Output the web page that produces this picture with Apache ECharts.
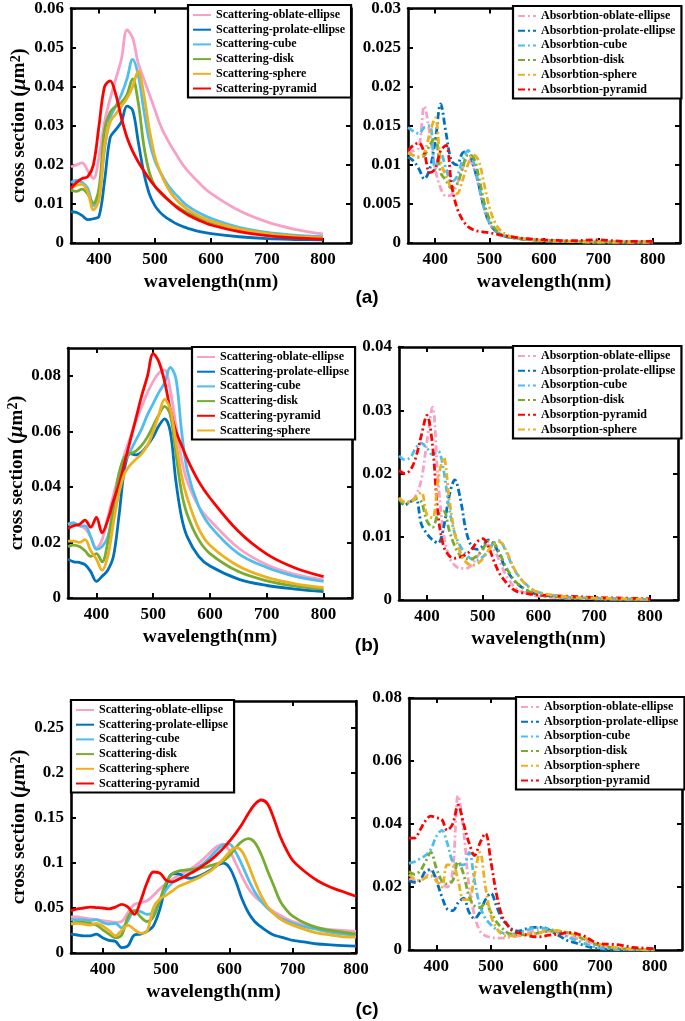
<!DOCTYPE html>
<html><head><meta charset="utf-8">
<script src="https://cdn.jsdelivr.net/npm/echarts@6/dist/echarts.min.js"></script>
<style>html,body{margin:0;padding:0;background:#fff}#c{width:685px;height:1021px}</style>
</head><body><div id="c"></div>
<script>
// ---------- wavelengths (nm) ----------
const waveAB = [350,360,370,380,390,400,410,420,430,440,450,460,470,480,490,500,510,520,530,540,550,560,580,600,650,700,750,800];
const waveC = [350,360,370,380,390,400,410,420,430,440,450,460,470,480,490,500,510,520,530,540,550,560,570,580,590,600,610,620,630,640,650,660,670,680,690,700,720,740,760,780,800];

// ---------- tick values ----------
const xTicks = [400,500,600,700,800];
const yTicksA1 = [0,0.01,0.02,0.03,0.04,0.05,0.06];
const yTicksA2 = [0,0.005,0.01,0.015,0.02,0.025,0.03];
const yTicksB1 = [0,0.02,0.04,0.06,0.08];
const yTicksB2 = [0,0.01,0.02,0.03,0.04];
const yTicksC1 = [0,0.05,0.1,0.15,0.2,0.25];
const yTicksC2 = [0,0.02,0.04,0.06,0.08];

// ---------- (a) scattering ----------
const aScaOblate  = [0.0195,0.0200,0.0205,0.0185,0.0165,0.0220,0.0310,0.0370,0.0420,0.0470,0.0545,0.0525,0.0460,0.0420,0.0380,0.0340,0.0300,0.0270,0.0245,0.0222,0.0200,0.0182,0.0152,0.0127,0.0083,0.0054,0.0035,0.0023];
const aScaProlate = [0.0080,0.0078,0.0070,0.0060,0.0062,0.0068,0.0160,0.0270,0.0290,0.0310,0.0350,0.0340,0.0260,0.0180,0.0125,0.0095,0.0077,0.0065,0.0056,0.0048,0.0042,0.0037,0.0029,0.0024,0.0016,0.0011,0.0009,0.0008];
const aScaCube    = [0.0155,0.0160,0.0155,0.0140,0.0095,0.0120,0.0240,0.0320,0.0350,0.0380,0.0420,0.0470,0.0430,0.0340,0.0260,0.0210,0.0180,0.0155,0.0135,0.0120,0.0105,0.0093,0.0076,0.0063,0.0040,0.0027,0.0020,0.0016];
const aScaDisk    = [0.0135,0.0132,0.0138,0.0125,0.0102,0.0140,0.0290,0.0335,0.0350,0.0360,0.0380,0.0420,0.0360,0.0250,0.0180,0.0145,0.0128,0.0115,0.0103,0.0093,0.0084,0.0076,0.0063,0.0053,0.0034,0.0023,0.0017,0.0013];
const aScaSphere  = [0.0140,0.0148,0.0150,0.0130,0.0085,0.0110,0.0250,0.0310,0.0330,0.0350,0.0370,0.0400,0.0440,0.0380,0.0290,0.0220,0.0180,0.0148,0.0125,0.0108,0.0095,0.0084,0.0068,0.0056,0.0036,0.0024,0.0017,0.0013];
const aScaPyramid = [0.0140,0.0155,0.0165,0.0170,0.0200,0.0300,0.0400,0.0415,0.0380,0.0320,0.0270,0.0235,0.0208,0.0185,0.0163,0.0145,0.0130,0.0115,0.0102,0.0090,0.0080,0.0071,0.0057,0.0046,0.0029,0.0019,0.0013,0.0010];

// ---------- (a) absorption ----------
const aAbsOblate  = [0.0115,0.0118,0.0122,0.0175,0.0140,0.0095,0.0070,0.0060,0.0062,0.0075,0.0095,0.0108,0.0098,0.0072,0.0043,0.0025,0.0016,0.0011,0.0008,0.0007,0.0006,0.0005,0.0004,0.0003,0.0002,0.0002,0.0001,0.0001];
const aAbsProlate = [0.0110,0.0105,0.0095,0.0082,0.0095,0.0130,0.0178,0.0140,0.0105,0.0100,0.0115,0.0118,0.0100,0.0075,0.0045,0.0025,0.0016,0.0011,0.0008,0.0007,0.0006,0.0005,0.0004,0.0003,0.0002,0.0001,0.0001,0.0001];
const aAbsCube    = [0.0148,0.0143,0.0140,0.0148,0.0150,0.0095,0.0115,0.0095,0.0078,0.0085,0.0105,0.0118,0.0105,0.0075,0.0045,0.0026,0.0016,0.0011,0.0008,0.0007,0.0006,0.0005,0.0004,0.0003,0.0002,0.0001,0.0001,0.0001];
const aAbsDisk    = [0.0115,0.0112,0.0110,0.0112,0.0125,0.0135,0.0090,0.0080,0.0070,0.0075,0.0095,0.0112,0.0110,0.0085,0.0052,0.0030,0.0018,0.0012,0.0009,0.0007,0.0006,0.0005,0.0004,0.0003,0.0002,0.0001,0.0001,0.0001];
const aAbsSphere  = [0.0115,0.0112,0.0110,0.0115,0.0140,0.0160,0.0105,0.0085,0.0070,0.0063,0.0080,0.0100,0.0113,0.0105,0.0075,0.0045,0.0026,0.0016,0.0011,0.0008,0.0007,0.0006,0.0004,0.0003,0.0002,0.0001,0.0001,0.0001];
const aAbsPyramid = [0.0118,0.0125,0.0128,0.0115,0.0090,0.0095,0.0118,0.0125,0.0075,0.0045,0.0030,0.0021,0.0017,0.0015,0.0014,0.0013,0.0012,0.0010,0.0009,0.0008,0.0007,0.0006,0.0005,0.0004,0.0003,0.0004,0.0002,0.0002];

// ---------- (b) scattering ----------
const bScaOblate  = [0.0265,0.0270,0.0260,0.0250,0.0220,0.0180,0.0210,0.0290,0.0370,0.0450,0.0520,0.0580,0.0640,0.0690,0.0740,0.0780,0.0810,0.0820,0.0750,0.0620,0.0500,0.0420,0.0330,0.0280,0.0180,0.0120,0.0085,0.0065];
const bScaProlate = [0.0140,0.0130,0.0128,0.0120,0.0095,0.0060,0.0078,0.0100,0.0150,0.0300,0.0470,0.0520,0.0515,0.0525,0.0550,0.0580,0.0620,0.0645,0.0600,0.0420,0.0290,0.0220,0.0150,0.0115,0.0068,0.0045,0.0032,0.0023];
const bScaCube    = [0.0265,0.0270,0.0260,0.0260,0.0220,0.0175,0.0185,0.0220,0.0320,0.0420,0.0490,0.0530,0.0570,0.0610,0.0660,0.0700,0.0740,0.0775,0.0830,0.0790,0.0600,0.0460,0.0330,0.0260,0.0160,0.0110,0.0078,0.0060];
const bScaDisk    = [0.0185,0.0190,0.0185,0.0170,0.0150,0.0160,0.0130,0.0200,0.0330,0.0450,0.0510,0.0520,0.0530,0.0550,0.0580,0.0620,0.0660,0.0690,0.0660,0.0520,0.0380,0.0300,0.0210,0.0160,0.0095,0.0062,0.0043,0.0032];
const bScaPyramid = [0.0250,0.0260,0.0265,0.0280,0.0255,0.0290,0.0235,0.0280,0.0350,0.0410,0.0490,0.0570,0.0650,0.0730,0.0800,0.0880,0.0850,0.0780,0.0680,0.0600,0.0550,0.0500,0.0420,0.0360,0.0240,0.0158,0.0108,0.0077];
const bScaSphere  = [0.0205,0.0205,0.0200,0.0210,0.0170,0.0140,0.0100,0.0150,0.0270,0.0380,0.0450,0.0480,0.0500,0.0520,0.0550,0.0600,0.0660,0.0715,0.0680,0.0560,0.0440,0.0360,0.0250,0.0190,0.0115,0.0074,0.0051,0.0037];

// ---------- (b) absorption ----------
const bAbsOblate  = [0.0160,0.0155,0.0155,0.0165,0.0190,0.0250,0.0305,0.0190,0.0105,0.0068,0.0055,0.0050,0.0050,0.0055,0.0068,0.0080,0.0087,0.0080,0.0062,0.0042,0.0028,0.0018,0.0010,0.0006,0.0003,0.0002,0.0001,0.0001];
const bAbsProlate = [0.0160,0.0150,0.0155,0.0160,0.0120,0.0105,0.0095,0.0090,0.0115,0.0165,0.0190,0.0160,0.0110,0.0085,0.0080,0.0085,0.0095,0.0088,0.0072,0.0052,0.0038,0.0027,0.0015,0.0009,0.0004,0.0002,0.0001,0.0001];
const bAbsCube    = [0.0228,0.0222,0.0225,0.0240,0.0248,0.0240,0.0230,0.0235,0.0205,0.0145,0.0105,0.0085,0.0072,0.0065,0.0063,0.0068,0.0078,0.0090,0.0094,0.0080,0.0060,0.0043,0.0023,0.0012,0.0005,0.0003,0.0002,0.0001];
const bAbsDisk    = [0.0160,0.0152,0.0155,0.0160,0.0155,0.0125,0.0115,0.0135,0.0140,0.0110,0.0085,0.0070,0.0065,0.0065,0.0070,0.0080,0.0093,0.0090,0.0075,0.0055,0.0040,0.0028,0.0015,0.0008,0.0004,0.0002,0.0001,0.0001];
const bAbsPyramid = [0.0205,0.0200,0.0205,0.0225,0.0260,0.0292,0.0245,0.0135,0.0085,0.0070,0.0066,0.0068,0.0072,0.0080,0.0092,0.0097,0.0085,0.0062,0.0042,0.0030,0.0020,0.0014,0.0010,0.0008,0.0006,0.0004,0.0003,0.0002];
const bAbsSphere  = [0.0162,0.0155,0.0155,0.0162,0.0170,0.0135,0.0130,0.0190,0.0225,0.0160,0.0105,0.0075,0.0060,0.0055,0.0057,0.0065,0.0078,0.0088,0.0092,0.0082,0.0062,0.0044,0.0022,0.0012,0.0005,0.0003,0.0002,0.0001];

// ---------- (c) scattering ----------
const cScaOblate  = [0.040,0.040,0.039,0.038,0.037,0.036,0.035,0.034,0.035,0.045,0.054,0.056,0.058,0.064,0.071,0.077,0.082,0.086,0.090,0.094,0.099,0.105,0.112,0.118,0.121,0.114,0.100,0.085,0.072,0.063,0.057,0.051,0.046,0.042,0.038,0.035,0.031,0.028,0.026,0.025,0.024];
const cScaProlate = [0.021,0.020,0.019,0.019,0.021,0.017,0.014,0.013,0.006,0.008,0.020,0.021,0.024,0.030,0.048,0.075,0.088,0.088,0.084,0.083,0.085,0.088,0.092,0.097,0.100,0.095,0.080,0.060,0.045,0.035,0.029,0.024,0.020,0.018,0.016,0.014,0.012,0.010,0.009,0.0082,0.0077];
const cScaCube    = [0.037,0.037,0.037,0.036,0.037,0.034,0.032,0.033,0.028,0.036,0.047,0.046,0.043,0.045,0.058,0.070,0.078,0.082,0.086,0.090,0.095,0.100,0.107,0.114,0.120,0.121,0.112,0.098,0.082,0.068,0.058,0.050,0.044,0.039,0.036,0.033,0.029,0.026,0.023,0.021,0.020];
const cScaDisk    = [0.033,0.034,0.034,0.033,0.031,0.026,0.021,0.017,0.020,0.040,0.047,0.040,0.035,0.040,0.058,0.078,0.088,0.091,0.092,0.093,0.094,0.095,0.097,0.099,0.102,0.108,0.117,0.124,0.127,0.123,0.110,0.092,0.075,0.058,0.048,0.041,0.033,0.028,0.025,0.023,0.021];
const cScaSphere  = [0.032,0.033,0.032,0.031,0.033,0.030,0.025,0.019,0.025,0.031,0.026,0.022,0.024,0.050,0.060,0.064,0.069,0.074,0.077,0.080,0.083,0.087,0.091,0.097,0.104,0.112,0.117,0.113,0.098,0.080,0.064,0.052,0.044,0.038,0.034,0.031,0.026,0.022,0.020,0.018,0.0177];
const cScaPyramid = [0.047,0.049,0.050,0.051,0.0505,0.050,0.049,0.051,0.054,0.051,0.043,0.058,0.078,0.090,0.089,0.081,0.079,0.082,0.085,0.089,0.093,0.098,0.103,0.109,0.116,0.124,0.133,0.143,0.155,0.165,0.170,0.166,0.150,0.130,0.115,0.103,0.090,0.080,0.073,0.068,0.063];

// ---------- (c) absorption ----------
const cAbsOblate  = [0.0225,0.022,0.022,0.023,0.025,0.023,0.021,0.020,0.025,0.049,0.038,0.020,0.011,0.006,0.0045,0.004,0.0038,0.0038,0.004,0.0042,0.0045,0.005,0.0055,0.006,0.0062,0.006,0.0058,0.0055,0.005,0.0045,0.004,0.0035,0.003,0.0025,0.0018,0.0012,0.0006,0.0003,0.0002,0.0001,0.0001];
const cAbsProlate = [0.022,0.0215,0.022,0.025,0.0255,0.022,0.017,0.013,0.0125,0.015,0.0165,0.012,0.0100,0.012,0.016,0.018,0.014,0.010,0.008,0.0065,0.006,0.0065,0.007,0.0072,0.0072,0.007,0.006,0.005,0.004,0.003,0.0025,0.002,0.0015,0.001,0.0006,0.0003,0.0001,0.0001,0,0,0];
const cAbsCube    = [0.0275,0.028,0.029,0.030,0.032,0.036,0.038,0.034,0.028,0.027,0.027,0.031,0.022,0.014,0.010,0.008,0.0065,0.0055,0.005,0.005,0.0055,0.006,0.0065,0.007,0.007,0.0068,0.0065,0.006,0.005,0.0042,0.0035,0.0028,0.0022,0.0015,0.001,0.0006,0.0003,0.0001,0.0001,0,0];
const cAbsDisk    = [0.025,0.024,0.025,0.028,0.031,0.026,0.022,0.021,0.022,0.028,0.024,0.017,0.014,0.0135,0.015,0.012,0.009,0.007,0.0055,0.005,0.0048,0.0048,0.005,0.0052,0.0055,0.0058,0.006,0.006,0.0058,0.0055,0.005,0.0042,0.0035,0.0028,0.002,0.0014,0.0008,0.0004,0.0002,0.0001,0];
const cAbsSphere  = [0.024,0.0225,0.022,0.023,0.0235,0.022,0.020,0.027,0.027,0.022,0.016,0.016,0.024,0.031,0.020,0.011,0.007,0.005,0.0045,0.0045,0.0045,0.0048,0.005,0.0053,0.0055,0.006,0.006,0.0062,0.006,0.0055,0.005,0.0045,0.004,0.0032,0.0025,0.0018,0.001,0.0005,0.0003,0.0001,0];
const cAbsPyramid = [0.0355,0.0355,0.038,0.041,0.0425,0.042,0.0415,0.038,0.040,0.046,0.040,0.034,0.030,0.034,0.037,0.028,0.018,0.011,0.008,0.006,0.0055,0.005,0.0045,0.0042,0.0042,0.0045,0.0048,0.005,0.0052,0.0055,0.0055,0.005,0.0045,0.0035,0.0025,0.002,0.0018,0.0015,0.0008,0.0006,0.0004];

// ---------- styling ----------
const colorOf = {oblate:'#F7A1C6', prolate:'#0072BD', cube:'#4DBEEE', disk:'#77AC30', sphere:'#EDB120', pyramid:'#FF0000'};
const shapeLabel = {oblate:'oblate-ellipse', prolate:'prolate-ellipse', cube:'cube', disk:'disk', sphere:'sphere', pyramid:'pyramid'};
const SERIF = 'Liberation Serif';

const panels = [
  {grid:{left:71,top:6,width:280,height:237}, xMax:850, yMax:0.06, yTicks:yTicksA1, x:waveAB, prefix:'Scattering-', dashed:false, yName:true,
   order:['oblate','prolate','cube','disk','sphere','pyramid'],
   ys:{oblate:aScaOblate,prolate:aScaProlate,cube:aScaCube,disk:aScaDisk,sphere:aScaSphere,pyramid:aScaPyramid}, legend:{left:188,top:5}},
  {grid:{left:408,top:7,width:272,height:236}, xMax:850, yMax:0.03, yTicks:yTicksA2, x:waveAB, prefix:'Absorbtion-', dashed:true, yName:false,
   order:['oblate','prolate','cube','disk','sphere','pyramid'],
   ys:{oblate:aAbsOblate,prolate:aAbsProlate,cube:aAbsCube,disk:aAbsDisk,sphere:aAbsSphere,pyramid:aAbsPyramid}, legend:{left:513,top:6}},
  {grid:{left:68,top:348,width:284,height:250}, xMax:850, yMax:0.09, yTicks:yTicksB1, x:waveAB, prefix:'Scattering-', dashed:false, yName:true,
   order:['oblate','prolate','cube','disk','pyramid','sphere'],
   ys:{oblate:bScaOblate,prolate:bScaProlate,cube:bScaCube,disk:bScaDisk,sphere:bScaSphere,pyramid:bScaPyramid}, legend:{left:192,top:347}},
  {grid:{left:399,top:347,width:279,height:253}, xMax:850, yMax:0.04, yTicks:yTicksB2, x:waveAB, prefix:'Absorption-', dashed:true, yName:false,
   order:['oblate','prolate','cube','disk','pyramid','sphere'],
   ys:{oblate:bAbsOblate,prolate:bAbsProlate,cube:bAbsCube,disk:bAbsDisk,sphere:bAbsSphere,pyramid:bAbsPyramid}, legend:{left:513,top:346}},
  {grid:{left:71,top:701,width:285,height:252}, xMax:800, yMax:0.28, yTicks:yTicksC1, x:waveC, prefix:'Scattering-', dashed:false, yName:true,
   order:['oblate','prolate','cube','disk','sphere','pyramid'],
   ys:{oblate:cScaOblate,prolate:cScaProlate,cube:cScaCube,disk:cScaDisk,sphere:cScaSphere,pyramid:cScaPyramid}, legend:{left:71,top:700}},
  {grid:{left:409,top:698,width:273,height:252}, xMax:850, yMax:0.08, yTicks:yTicksC2, x:waveC, prefix:'Absorption-', dashed:true, yName:false,
   order:['oblate','prolate','cube','disk','sphere','pyramid'],
   ys:{oblate:cAbsOblate,prolate:cAbsProlate,cube:cAbsCube,disk:cAbsDisk,sphere:cAbsSphere,pyramid:cAbsPyramid}, legend:{left:516,top:697}}
];

const fmtY = v => v === 0 ? '0' : String(+v.toFixed(4));
const axLine = {show:true, onZero:false, lineStyle:{color:'#000', width:2.6}};
const tickStyle = vals => ({show:true, inside:true, length:5, customValues:vals, lineStyle:{color:'#000', width:2}});
const labelStyle = {fontFamily:SERIF, fontWeight:'bold', fontSize:17, color:'#000'};

const option = {animation:false, backgroundColor:'#fff', grid:[], xAxis:[], yAxis:[], legend:[], series:[], graphic:[]};

panels.forEach((p, i) => {
  option.grid.push(Object.assign({containLabel:false}, p.grid));
  option.xAxis.push({type:'value', gridIndex:i, position:'bottom', min:350, max:p.xMax,
    axisLine:axLine, axisTick:tickStyle(xTicks), splitLine:{show:false},
    axisLabel:Object.assign({customValues:xTicks, margin:8}, labelStyle),
    name:'wavelength(nm)', nameLocation:'middle', nameGap:29,
    nameTextStyle:{fontFamily:SERIF, fontWeight:'bold', fontSize:19.5, color:'#000'}});
  option.xAxis.push({type:'value', gridIndex:i, position:'top', min:350, max:p.xMax,
    axisLine:axLine, axisTick:tickStyle(xTicks), splitLine:{show:false}, axisLabel:{show:false}});
  const yl = {type:'value', gridIndex:i, position:'left', min:0, max:p.yMax,
    axisLine:axLine, axisTick:tickStyle(p.yTicks), splitLine:{show:false},
    axisLabel:Object.assign({customValues:p.yTicks, margin:7, formatter:fmtY}, labelStyle)};
  if (p.yName) {
    yl.name = '{t|cross section }{p|(}{i|μ}{t|m}{s|2}{p|)}';
    yl.nameLocation = 'middle';
    yl.nameGap = p.grid.left - 30;
    yl.nameTextStyle = {rich:{
      t:{fontFamily:SERIF, fontWeight:'bold', fontSize:19, color:'#000'},
      p:{fontFamily:SERIF, fontWeight:'bold', fontSize:21, color:'#000'},
      i:{fontFamily:SERIF, fontWeight:'bold', fontStyle:'italic', fontSize:21, color:'#000'},
      s:{fontFamily:SERIF, fontWeight:'bold', fontSize:14, color:'#000', verticalAlign:'top'}
    }};
  }
  option.yAxis.push(yl);
  option.yAxis.push({type:'value', gridIndex:i, position:'right', min:0, max:p.yMax,
    axisLine:axLine, axisTick:tickStyle(p.yTicks), splitLine:{show:false}, axisLabel:{show:false}});

  const names = [];
  p.order.forEach(k => {
    const nm = p.prefix + shapeLabel[k];
    names.push(nm);
    option.series.push({
      type:'line', name:nm, xAxisIndex:2*i, yAxisIndex:2*i,
      data:p.x.map((xv, j) => [xv, p.ys[k][j]]),
      smooth:0.35, showSymbol:false, symbol:'none', clip:true,
      lineStyle:{color:colorOf[k], width:2.8, type:p.dashed ? [7,3,2,3] : 'solid'},
      itemStyle:{color:colorOf[k]},
      emphasis:{disabled:true}
    });
  });
  option.legend.push({left:p.legend.left, top:p.legend.top, orient:'vertical', data:names,
    itemWidth:18, itemHeight:12, itemGap:2.7, padding:[4,6,3,4], selectedMode:false,
    itemStyle:{color:'rgba(0,0,0,0)', borderColor:'rgba(0,0,0,0)', borderWidth:0, opacity:0},
    borderColor:'#000', borderWidth:2.2, backgroundColor:'#fff', z:10,
    textStyle:{fontFamily:SERIF, fontWeight:'bold', fontSize:12, color:'#000', lineHeight:12}});
});

[['(a)',298],['(b)',646],['(c)',1010]].forEach(t => {
  option.graphic.push({type:'text', x:367, y:t[1],
    style:{text:t[0], fontFamily:'Liberation Sans', fontWeight:'bold', fontSize:19, fill:'#000', align:'center', verticalAlign:'middle'}});
});

const chart = echarts.init(document.getElementById('c'));
chart.setOption(option);
</script></body></html>
